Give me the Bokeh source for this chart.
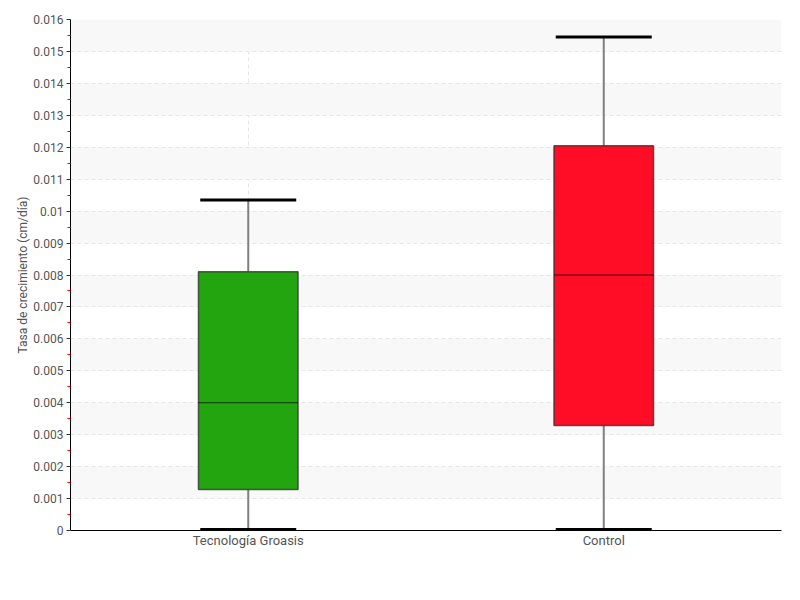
from bokeh.plotting import figure
from bokeh.models import FactorRange, FixedTicker, Range1d
from bokeh.transform import dodge
from bokeh.embed import file_html
from bokeh.resources import INLINE

categories = ["Tecnología Groasis", "Control"]
lower = [0.00003, 0.00003]
q1 = [0.00128, 0.00329]
median = [0.0040, 0.0080]
q3 = [0.0081, 0.01205]
upper = [0.01035, 0.01545]
colors = ["#22A50F", "#FF0D26"]
y_ticks = [i / 1000 for i in range(17)]
y_minor = [i / 1000 + 0.0005 for i in range(16)]
tick_labels = ["0"] + ["%g" % t for t in y_ticks[1:]]

FONT = "Roboto"

p = figure(x_range=FactorRange(*categories), y_range=Range1d(0, 0.016),
           frame_width=711, frame_height=511, output_backend="svg",
           toolbar_location=None, min_border_left=70, min_border_top=19,
           min_border_right=11, min_border_bottom=10)
p.outline_line_color = None
p.background_fill_color = "white"

data = dict(cat=categories, lower=lower, q1=q1, median=median, q3=q3,
            upper=upper, color=colors)

# whisker stems
p.segment(x0="cat", x1="cat", y0="lower", y1="q1", source=data,
          line_color="#808080", line_width=2)
p.segment(x0="cat", x1="cat", y0="q3", y1="upper", source=data,
          line_color="#808080", line_width=2)
# caps
for col in ["lower", "upper"]:
    p.segment(x0=dodge("cat", -0.135, range=p.x_range),
              x1=dodge("cat", 0.135, range=p.x_range),
              y0=col, y1=col, source=data, line_color="black", line_width=3)
# boxes
p.vbar(x="cat", bottom="q1", top="q3", width=0.28, source=data,
       fill_color="color", line_color="#333333", line_alpha=0.8, line_width=1.5)
# medians
p.segment(x0=dodge("cat", -0.14, range=p.x_range),
          x1=dodge("cat", 0.14, range=p.x_range),
          y0="median", y1="median", source=data, line_color="black",
          line_alpha=0.7, line_width=1)

# grids
p.ygrid.ticker = FixedTicker(ticks=y_ticks)
p.ygrid.grid_line_color = "#e6e6e6"
p.ygrid.grid_line_dash = "4 3"
p.ygrid.band_fill_color = "#f8f8f8"
p.ygrid.band_fill_alpha = 1.0
p.xgrid.grid_line_color = "#e6e6e6"
p.xgrid.grid_line_dash = "4 3"

# axes
ya = p.yaxis[0]
ya.ticker = FixedTicker(ticks=y_ticks, minor_ticks=y_minor)
ya.major_label_overrides = {t: l for t, l in zip(y_ticks, tick_labels)}
ya.axis_label = "Tasa de crecimiento (cm/día)"
ya.axis_label_text_font = FONT
ya.axis_label_text_font_style = "normal"
ya.axis_label_text_font_size = "12px"
ya.axis_label_text_color = "#555555"
ya.axis_label_standoff = 0
ya.major_label_text_font = FONT
ya.major_label_text_font_size = "12px"
ya.major_label_text_color = "#555555"
ya.major_label_standoff = 3
ya.axis_line_color = "black"
ya.major_tick_line_color = "#333333"
ya.major_tick_out = 4
ya.major_tick_in = 0
ya.minor_tick_line_color = "red"
ya.minor_tick_out = 3
ya.minor_tick_in = 0

xa = p.xaxis[0]
xa.major_label_text_font = FONT
xa.major_label_text_font_size = "13px"
xa.major_label_text_color = "#555555"
xa.major_tick_line_color = None
xa.major_tick_out = 0
xa.major_tick_in = 0
xa.minor_tick_line_color = None
xa.major_label_standoff = 2
xa.axis_line_color = "black"
xa.group_text_font = FONT

open("out.html", "w").write(file_html(p, INLINE))
